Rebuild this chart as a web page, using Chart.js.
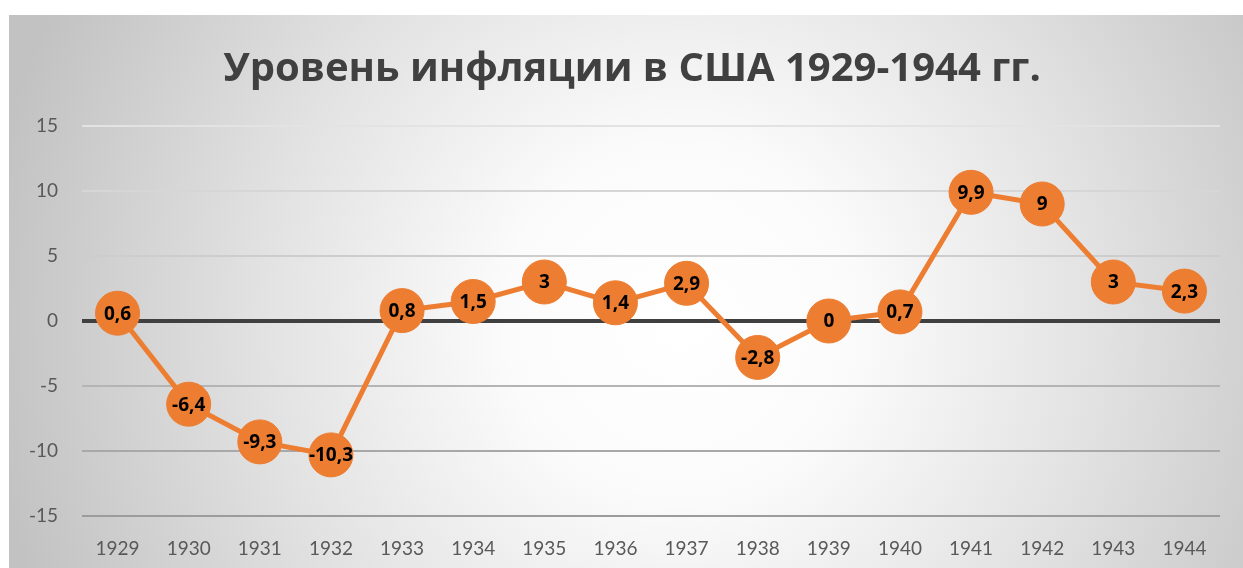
<!DOCTYPE html>
<html>
<head>
<meta charset="utf-8">
<script src="https://cdn.jsdelivr.net/npm/chart.js@4/dist/chart.umd.min.js"></script>
<style>
html,body{margin:0;padding:0;background:#fff;}
#wrap{width:1243px;height:568px;position:relative;}
</style>
</head>
<body>
<div id="wrap"><canvas id="c" width="1243" height="568"></canvas></div>
<script>
const titleText = 'Уровень инфляции в США 1929-1944 гг.';
const years = ['1929','1930','1931','1932','1933','1934','1935','1936','1937','1938','1939','1940','1941','1942','1943','1944'];
const inflation = [0.6, -6.4, -9.3, -10.3, 0.8, 1.5, 3, 1.4, 2.9, -2.8, 0, 0.7, 9.9, 9, 3, 2.3];
const yTicks = [-15, -10, -5, 0, 5, 10, 15];
const gridColors = {'15':'#e3e3e3','10':'#d6d6d6','5':'#cdcdcd','0':'#404040','-5':'#b4b4b4','-10':'#a8a8a8','-15':'#9c9c9c'};

const bgPlugin = {
  id:'bg',
  beforeDraw(chart){
    const ctx = chart.ctx;
    ctx.save();
    ctx.fillStyle = '#ffffff';
    ctx.fillRect(0,0,chart.width,chart.height);
    const x0 = 9, y0 = 15, w = chart.width - x0, h = chart.height - y0;
    const g = ctx.createRadialGradient(680, 320, 0, 680, 320, 700);
    g.addColorStop(0, '#ffffff');
    g.addColorStop(0.25, '#fbfbfb');
    g.addColorStop(0.6, '#e2e2e2');
    g.addColorStop(1, '#c2c2c2');
    ctx.fillStyle = g;
    ctx.fillRect(x0, y0, w, h);
    ctx.font = 'bold 40px "Open Sans"';
    ctx.fillStyle = '#404040';
    ctx.textAlign = 'center';
    ctx.textBaseline = 'middle';
    ctx.fillText(titleText, 632, 70);
    ctx.restore();
  }
};

const labelPlugin = {
  id:'pointLabels',
  afterDatasetsDraw(chart){
    const ctx = chart.ctx;
    const meta = chart.getDatasetMeta(0);
    ctx.save();
    ctx.font = 'bold 19px "Open Sans"';
    ctx.fillStyle = '#000000';
    ctx.textAlign = 'center';
    ctx.textBaseline = 'middle';
    meta.data.forEach((pt, i) => {
      const v = chart.data.datasets[0].data[i];
      ctx.fillText(String(v).replace('.', ','), pt.x, pt.y + 1);
    });
    ctx.restore();
  }
};

new Chart(document.getElementById('c'), {
  type:'line',
  data:{
    labels: years,
    datasets:[{
      data: inflation,
      borderColor:'#ED7D31',
      borderWidth:5,
      backgroundColor:'#ED7D31',
      pointBackgroundColor:'#ED7D31',
      pointBorderColor:'#ED7D31',
      pointRadius:22,
      pointHoverRadius:22,
      pointBorderWidth:1,
      tension:0,
      clip:false
    }]
  },
  options:{
    responsive:false,
    animation:false,
    events:[],
    layout:{padding:{left:9, top:126, right:17, bottom:0}},
    plugins:{
      legend:{display:false},
      tooltip:{enabled:false},
      title:{display:false}
    },
    scales:{
      x:{
        type:'category',
        offset:true,
        grid:{display:false, drawTicks:false},
        border:{display:false},
        ticks:{color:'#595959', font:{family:'Lato', size:19}, padding:21, maxRotation:0, autoSkip:false},
        afterFit(s){ s.height = 52; }
      },
      y:{
        min:-15, max:15,
        afterBuildTicks(s){ s.ticks = yTicks.map(v => ({value:v})); },
        grid:{
          drawTicks:false,
          color:(c)=> gridColors[String(c.tick.value)] || '#cccccc',
          lineWidth:(c)=> c.tick.value === 0 ? 4 : 2
        },
        border:{display:false},
        ticks:{color:'#595959', font:{family:'Lato', size:19}, padding:24},
        afterFit(s){ s.width = 73; }
      }
    }
  },
  plugins:[bgPlugin, labelPlugin]
});
</script>
</body>
</html>
